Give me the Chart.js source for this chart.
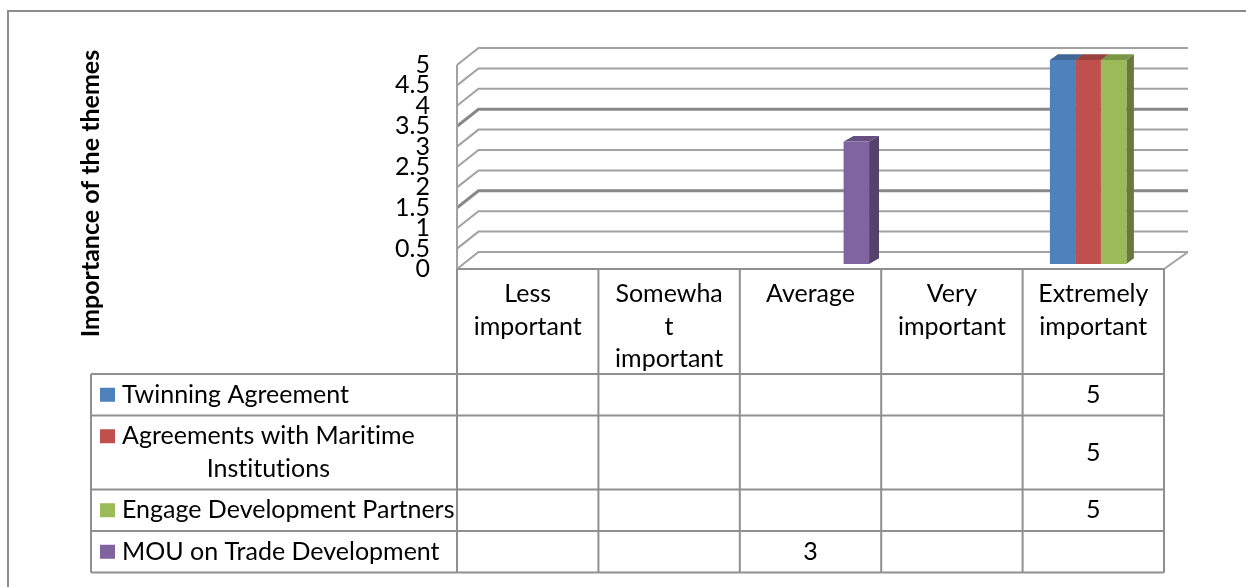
<!DOCTYPE html>
<html>
<head>
<meta charset="utf-8">
<script src="https://cdn.jsdelivr.net/npm/chart.js@4.4.1/dist/chart.umd.min.js"></script>
<style>
  html, body { margin: 0; padding: 0; background: #fff; overflow: hidden; }
  canvas { display: block; }
</style>
</head>
<body>
<canvas id="chart" width="1246" height="587"></canvas>
<script>
// Rating categories (header row of the data table, already wrapped into lines)
const categories = [
  ['Less', 'important'],
  ['Somewha', 't', 'important'],
  ['Average'],
  ['Very', 'important'],
  ['Extremely', 'important']
];

// Series names as they wrap in the legend column of the table
const seriesNames = [
  ['Twinning Agreement'],
  ['Agreements with Maritime', 'Institutions'],
  ['Engage Development Partners'],
  ['MOU on Trade Development']
];

// Scores per rating category
const twinningAgreement   = [null, null, null, null, 5];
const maritimeAgreements  = [null, null, null, null, 5];
const developmentPartners = [null, null, null, null, 5];
const tradeDevelopmentMou = [null, null, 3, null, null];

// Value axis tick labels
const yTickLabels = ['0', '0.5', '1', '1.5', '2', '2.5', '3', '3.5', '4', '4.5', '5'];

const seriesColors = ['#4F81BD', '#C0504D', '#9BBB59', '#8064A2'];
const axisTitle = 'Importance of the themes';

const FONT = 'Lato, "Liberation Sans", sans-serif';
const FONT_SIZE = 25;
const LINE_H = 32.5;

// 3-D look: depth of the walls and offset of the bars inside the box
const WALL = { dxLeft: 21.5, dxRight: 24, dy: -17 };
const BAR_SHIFT = { dx: 7.6, dy: -5 };
const BAR_TOP_DY = -5.7;
const HEAVY_GRID = [1.5, 3.5];

function shade(hex, f) {
  const n = parseInt(hex.slice(1), 16);
  const r = Math.round(((n >> 16) & 255) * f);
  const g = Math.round(((n >> 8) & 255) * f);
  const b = Math.round((n & 255) * f);
  return `rgb(${r},${g},${b})`;
}

// side face gets slightly narrower towards the right (perspective)
function sideDepth(screenX) {
  return 18 - 0.0093 * screenX;
}

const box3d = {
  id: 'box3d',
  beforeDraw(chart) {
    const { ctx } = chart;
    ctx.save();
    ctx.strokeStyle = '#8c8c8c';
    ctx.lineWidth = 2;
    ctx.strokeRect(8, 11, 2000, 2000);
    ctx.restore();
  },
  beforeDatasetsDraw(chart) {
    const { ctx, chartArea: a, scales: { y } } = chart;
    ctx.save();
    ctx.lineCap = 'butt';
    y.ticks.forEach(t => {
      const py = y.getPixelForValue(t.value);
      const heavy = HEAVY_GRID.includes(t.value);
      ctx.strokeStyle = heavy ? '#888888' : '#a2a2a2';
      ctx.lineWidth = heavy ? 3 : 2;
      ctx.beginPath();
      ctx.moveTo(a.left, py);
      ctx.lineTo(a.left + WALL.dxLeft, py + WALL.dy);
      ctx.lineTo(a.right + WALL.dxRight, py + WALL.dy);
      ctx.stroke();
    });
    ctx.strokeStyle = '#a2a2a2';
    ctx.lineWidth = 2;
    ctx.beginPath();
    ctx.moveTo(a.left, a.top);
    ctx.lineTo(a.left, a.bottom);
    ctx.moveTo(a.right, a.bottom);
    ctx.lineTo(a.right + WALL.dxRight, a.bottom + WALL.dy);
    ctx.stroke();
    ctx.restore();

    // bars sit a little inside the box; draw their tops and sides first
    ctx.save();
    ctx.translate(BAR_SHIFT.dx, BAR_SHIFT.dy);
    chart.data.datasets.forEach((ds, i) => {
      const meta = chart.getDatasetMeta(i);
      meta.data.forEach((bar, j) => {
        if (ds.data[j] == null) return;
        const p = bar.getProps(['x', 'y', 'base', 'width'], true);
        const l = p.x - p.width / 2, r = p.x + p.width / 2;
        const top = Math.min(p.y, p.base), bottom = Math.max(p.y, p.base);
        const sdx = sideDepth(r + BAR_SHIFT.dx);
        const base = seriesColors[i];
        ctx.fillStyle = shade(base, 0.66);
        ctx.beginPath();
        ctx.moveTo(r, top);
        ctx.lineTo(r + sdx, top + BAR_TOP_DY);
        ctx.lineTo(r + sdx, bottom + BAR_TOP_DY);
        ctx.lineTo(r, bottom);
        ctx.closePath();
        ctx.fill();
        ctx.fillStyle = shade(base, 0.8);
        ctx.beginPath();
        ctx.moveTo(l, top);
        ctx.lineTo(r, top);
        ctx.lineTo(r + sdx, top + BAR_TOP_DY);
        ctx.lineTo(l + sdx, top + BAR_TOP_DY);
        ctx.closePath();
        ctx.fill();
      });
    });
  },
  afterDatasetsDraw(chart) {
    chart.ctx.restore();
  }
};

const dataTable = {
  id: 'dataTable',
  afterDraw(chart) {
    const { ctx, chartArea: a, scales: { x } } = chart;
    const tableLeft = 91;
    const headerBottom = a.bottom + 105;
    const colW = (a.right - a.left) / categories.length;
    const rowPad = 9;
    const series = chart.data.datasets;

    // row boundaries
    const rows = [];
    let yTop = headerBottom;
    seriesNames.forEach(lines => {
      const h = lines.length * LINE_H + rowPad;
      rows.push({ top: yTop, bottom: yTop + h });
      yTop += h;
    });
    const tableBottom = yTop;

    ctx.save();
    ctx.strokeStyle = '#8f8f8f';
    ctx.lineWidth = 2;
    ctx.beginPath();
    // header top edge
    ctx.moveTo(a.left, a.bottom);
    ctx.lineTo(a.right, a.bottom);
    // horizontal rules
    ctx.moveTo(tableLeft, headerBottom);
    ctx.lineTo(a.right, headerBottom);
    rows.forEach(r => {
      ctx.moveTo(tableLeft, r.bottom);
      ctx.lineTo(a.right, r.bottom);
    });
    // verticals
    ctx.moveTo(tableLeft, headerBottom);
    ctx.lineTo(tableLeft, tableBottom);
    for (let i = 0; i <= categories.length; i++) {
      const cx = a.left + i * colW;
      ctx.moveTo(cx, a.bottom);
      ctx.lineTo(cx, tableBottom);
    }
    ctx.stroke();

    ctx.font = `${FONT_SIZE}px ${FONT}`;
    ctx.textRendering = 'optimizeSpeed';
    ctx.fillStyle = '#000';
    ctx.textBaseline = 'middle';

    rows.forEach((r, i) => {
      const lines = seriesNames[i];
      const firstY = (r.top + r.bottom) / 2 - (lines.length - 1) * LINE_H / 2;
      // legend key
      ctx.fillStyle = seriesColors[i];
      ctx.fillRect(100, firstY - 7, 15, 14);
      // wrapped name, lines centred on the widest one
      ctx.fillStyle = '#000';
      ctx.textAlign = 'left';
      const widths = lines.map(s => ctx.measureText(s).width);
      const blockW = Math.max(...widths);
      lines.forEach((s, k) => {
        ctx.fillText(s, 122 + (blockW - widths[k]) / 2, firstY + k * LINE_H);
      });
      // values
      ctx.textAlign = 'center';
      series[i].data.forEach((v, j) => {
        if (v == null) return;
        ctx.fillText(String(v), x.getPixelForValue(j), (r.top + r.bottom) / 2);
      });
    });

    // value-axis title
    ctx.translate(91, 193.5);
    ctx.rotate(-Math.PI / 2);
    ctx.font = `bold ${FONT_SIZE}px ${FONT}`;
    ctx.textAlign = 'center';
    ctx.fillText(axisTitle, 0, 0);
    ctx.restore();
  }
};

const seriesValues = [twinningAgreement, maritimeAgreements, developmentPartners, tradeDevelopmentMou];

new Chart(document.getElementById('chart'), {
  type: 'bar',
  data: {
    labels: categories,
    datasets: seriesValues.map((vals, i) => ({
      label: seriesNames[i].join(' '),
      data: vals,
      backgroundColor: seriesColors[i],
      borderWidth: 0,
      categoryPercentage: 0.721,
      barPercentage: 1.0,
      clip: false
    }))
  },
  options: {
    responsive: false,
    animation: false,
    events: [],
    layout: { padding: { top: 65, right: 82, bottom: 0, left: 0 } },
    plugins: {
      legend: { display: false },
      tooltip: { enabled: false },
      title: { display: false }
    },
    scales: {
      x: {
        grid: { display: false, drawTicks: false },
        border: { display: false },
        ticks: {
          color: '#000',
          font: { family: FONT, size: FONT_SIZE, lineHeight: LINE_H / FONT_SIZE },
          padding: 9,
          maxRotation: 0,
          autoSkip: false
        },
        afterFit(scale) { scale.height = 318; }
      },
      y: {
        min: 0,
        max: 5,
        grid: { display: false, drawTicks: false },
        border: { display: false },
        ticks: {
          stepSize: 0.5,
          autoSkip: false,
          color: '#000',
          padding: 27,
          font: { family: FONT, size: FONT_SIZE },
          callback: (value, index) => yTickLabels[index]
        },
        afterFit(scale) { scale.width = 457; }
      }
    }
  },
  plugins: [box3d, dataTable]
});
</script>
</body>
</html>
